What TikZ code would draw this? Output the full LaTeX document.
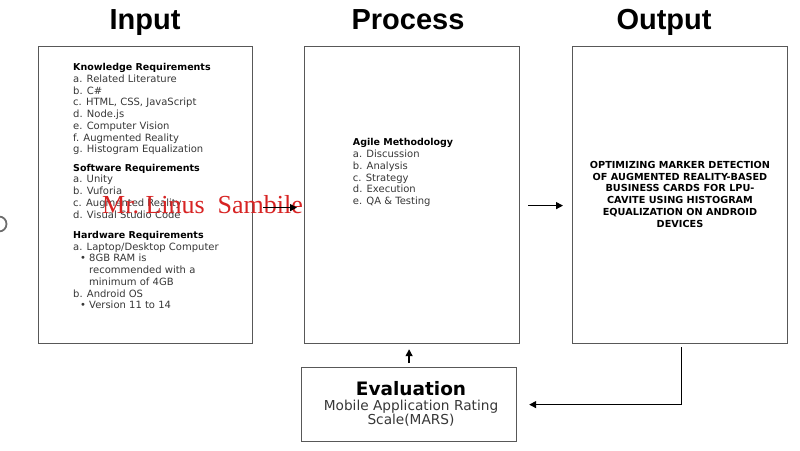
\documentclass[tikz,border=0pt]{standalone}
\usepackage{fontspec}
\setmainfont{DejaVu Sans}
\newfontfamily\headfont{Liberation Sans}
\newfontfamily\markfont{Liberation Serif}
\usetikzlibrary{arrows.meta}
\definecolor{boxgray}{RGB}{88,88,88}
\definecolor{txtgray}{RGB}{55,55,55}
\definecolor{markred}{RGB}{215,35,35}
\newcommand\hd[1]{{\fontsize{9.5}{11.7}\selectfont\bfseries\color{black}#1}}
\newcommand\bul{\hspace*{7pt}\makebox[9pt][l]{\textbullet}}

\begin{document}
\begin{tikzpicture}[x=1pt,y=-1pt,
  box/.style={draw=boxgray,line width=1.2pt,anchor=north west,inner sep=0pt},
  title/.style={font=\headfont\fontsize{29}{34}\selectfont\bfseries,anchor=base,inner sep=0pt},
  body/.style={font=\fontsize{10}{11.7}\selectfont,text=txtgray,align=left,anchor=base west,inner sep=0pt},
  flow/.style={line width=1.4pt,-{Triangle[length=7pt,width=7pt]}}]
% input - process - output, page units are px from the top left corner
% (text blocks sit on the baseline of their last line)
\useasboundingbox (0,0) rectangle (800,450);
\draw[line width=1.8pt,color={rgb,255:red,110;green,110;blue,110}] (-1,224) circle (7.5);

\node[title] (intitle) at (145,29) {Input};
\node[title] (proctitle) at (408,29) {Process};
\node[title] (outtitle) at (664,29) {Output};

\node[box,minimum width=214pt,minimum height=297pt] (inbox) at (38,46) {};
\node[box,minimum width=215pt,minimum height=297pt] (procbox) at (304,46) {};
\node[box,minimum width=215pt,minimum height=297pt] (outbox) at (572,46) {};
\node[box,minimum width=215pt,minimum height=74pt] (evalbox) at (301,367) {};

\node[body] (knowreq) at (73,152.7) {\hd{Knowledge Requirements}\\
  a. Related Literature\\b. C\#\\c. HTML, CSS, JavaScript\\d. Node.js\\
  e. Computer Vision\\f. Augmented Reality\\g. Histogram Equalization};
\node[body] (softreq) at (73,218) {\hd{Software Requirements}\\
  a. Unity\\b. Vuforia\\c. Augmented Reality\\d. Visual Studio Code};
\node[body] (hardreq) at (73,308.7) {\hd{Hardware Requirements}\\
  a. Laptop/Desktop Computer\\\bul 8GB RAM is\\\hspace*{16pt}recommended with a\\
  \hspace*{16pt}minimum of 4GB\\b. Android OS\\\bul Version 11 to 14};

\node[body] (agile) at (352.7,204.4) {\hd{Agile Methodology}\\
  a. Discussion\\b. Analysis\\c. Strategy\\d. Execution\\e. QA \& Testing};

\node[body,anchor=base,align=center,text=black,
  font=\fontsize{9.7}{11.7}\selectfont\bfseries] (outtext) at (680,227)
  {OPTIMIZING MARKER DETECTION\\OF AUGMENTED REALITY-BASED\\BUSINESS CARDS FOR LPU-\\
   CAVITE USING HISTOGRAM\\EQUALIZATION ON ANDROID\\DEVICES};

\node[font=\fontsize{18.5}{22}\selectfont\bfseries,anchor=base,inner sep=0pt] (evalhd) at (411,395) {Evaluation};
\node[body,anchor=base,align=center,font=\fontsize{13.7}{14.5}\selectfont] (evaltext) at (411,424.5)
  {Mobile Application Rating\\Scale(MARS)};

\node[font=\markfont\fontsize{26}{30}\selectfont,text=markred,anchor=base west,inner sep=0pt] (mark)
  at (102,213) {Mr.\ Linus\ \ Sambile};

\draw[flow] ([xshift=10pt,yshift=-12.5pt]inbox.east) -- ([xshift=-7pt,yshift=-12.5pt]procbox.west);
\draw[flow] ([xshift=8pt,yshift=-10.5pt]procbox.east) -- ([xshift=-9pt,yshift=-10.5pt]outbox.west);
\path (evalbox.north |- procbox.south) coordinate (procfoot);
\draw[flow] ([yshift=4pt]evalbox.north) -- ([yshift=-5pt]procfoot);
\draw[flow] ([xshift=1.5pt,yshift=-3pt]outbox.south) |- ([xshift=12pt]evalbox.east);
\end{tikzpicture}
\end{document}
